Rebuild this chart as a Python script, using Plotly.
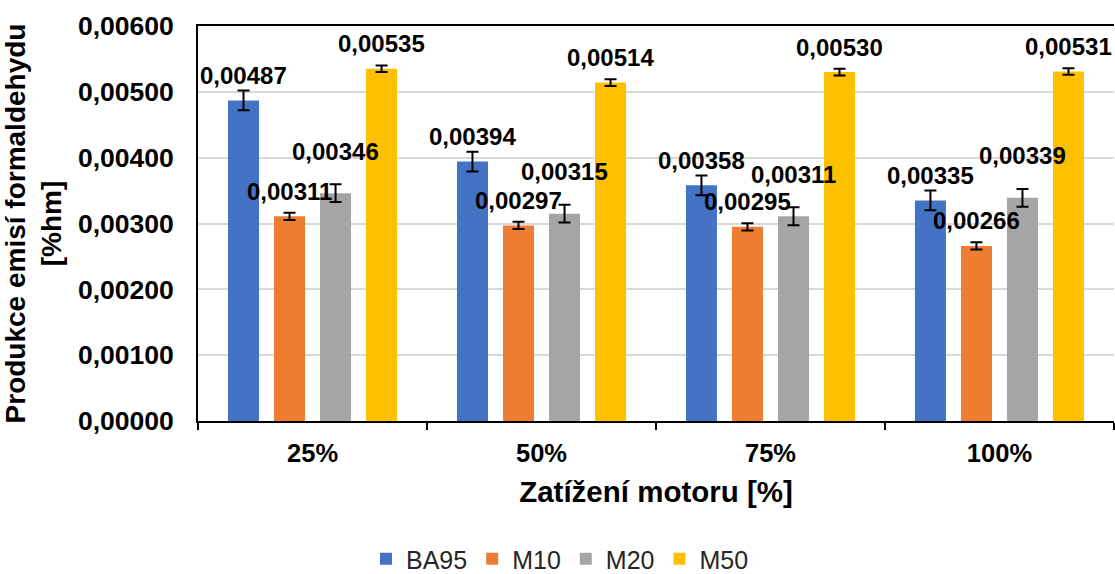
import plotly.graph_objects as go

categories = ["25%", "50%", "75%", "100%"]
series_names = ["BA95", "M10", "M20", "M50"]
ba95 = [0.00487, 0.00394, 0.00358, 0.00335]
m10 = [0.00311, 0.00297, 0.00295, 0.00266]
m20 = [0.00346, 0.00315, 0.00311, 0.00339]
m50 = [0.00535, 0.00514, 0.00530, 0.00531]
err_ba95 = [0.00015, 0.00015, 0.00015, 0.00015]
err_m10 = [0.000055, 0.000055, 0.000055, 0.000055]
err_m20 = [0.000135, 0.000135, 0.000135, 0.000135]
err_m50 = [0.00005, 0.00005, 0.00005, 0.00005]
y_ticks = [0, 0.001, 0.002, 0.003, 0.004, 0.005, 0.006]

values = [ba95, m10, m20, m50]
errors = [err_ba95, err_m10, err_m20, err_m50]
colors = ["#4472C4", "#ED7D31", "#A5A5A5", "#FFC000"]
label_shift = [25, 25, 42, 25]

W, H = 1115, 574
ML, MR, MT, MB = 198, 1, 26, 153
BARGAP = 0.196
BARGROUPGAP = 0.326
FONT = "Liberation Sans, Arial, sans-serif"

fig = go.Figure()
for name, vals, errs, col in zip(series_names, values, errors, colors):
    fig.add_trace(go.Bar(
        name=name, x=categories, y=vals, marker=dict(color=col, line=dict(width=0)),
        error_y=dict(type="data", array=errs, visible=True, color="black", thickness=2, width=6),
    ))

plot_w = W - ML - MR
plot_h = H - MT - MB
cat_w = plot_w / len(categories)
pitch = cat_w * (1 - BARGAP) / len(series_names)
n = len(series_names)
for si, (vals, sh) in enumerate(zip(values, label_shift)):
    xs = (si - (n - 1) / 2) * pitch
    for c, v in zip(categories, vals):
        fig.add_annotation(
            x=c, y=v, xref="x", yref="y", text=f"{v:.5f}".replace(".", ","),
            showarrow=False, xshift=xs, yshift=sh, xanchor="center", yanchor="middle",
            font=dict(family=FONT, size=24, color="black", weight="bold"),
        )

fig.update_layout(
    width=W, height=H, margin=dict(l=ML, r=MR, t=MT, b=MB, autoexpand=False),
    plot_bgcolor="white", paper_bgcolor="white",
    barmode="group", bargap=BARGAP, bargroupgap=BARGROUPGAP,
    separators=", ",
    font=dict(family=FONT, color="black"),
    legend=dict(orientation="h", x=(560 - ML) / plot_w, xanchor="center",
                y=-(559 - (MT + plot_h)) / plot_h, yanchor="middle",
                font=dict(family=FONT, size=25, color="#262626"), itemwidth=30, traceorder="normal"),
    showlegend=True,
)
fig.update_xaxes(
    type="category", showline=True, linecolor="black", linewidth=2, mirror=True,
    ticks="outside", tickson="boundaries", ticklen=7, tickcolor="black", tickwidth=2,
    tickfont=dict(family=FONT, size=25.5, color="black", weight="bold"), ticklabelstandoff=8,
    title=dict(text="Zatížení motoru [%]", font=dict(family=FONT, size=29.5, color="black", weight="bold"), standoff=16),
    showgrid=False,
)
fig.update_yaxes(
    range=[0, 0.006], tickvals=y_ticks, tickformat=".5f", showline=True, linecolor="black", linewidth=2,
    ticks="", showgrid=True, gridcolor="#D9D9D9", gridwidth=1.5, zeroline=False,
    tickfont=dict(family=FONT, size=26.5, color="black", weight="bold"), ticklabelstandoff=17,
    title=dict(text="Produkce emisí formaldehydu<br>[%hm]", font=dict(family=FONT, size=28, color="black", weight="bold"), standoff=10),
)
fig.write_html("out.html", config={"displayModeBar": False},
               post_script="document.body.style.margin='0';document.body.style.overflow='hidden';")
